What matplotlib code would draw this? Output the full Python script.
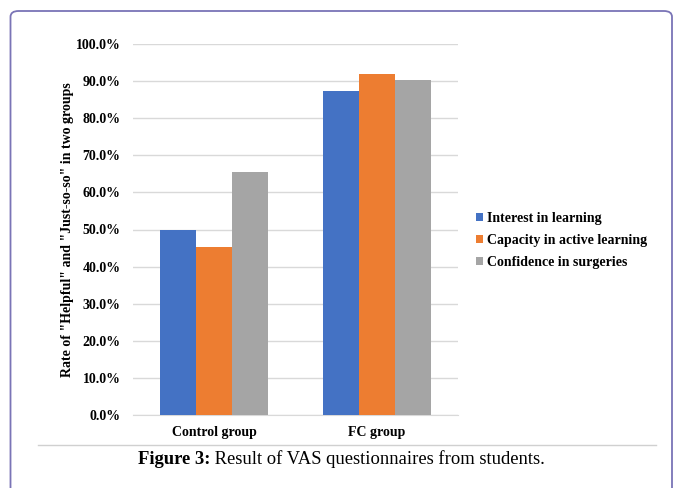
import numpy as np
import matplotlib
matplotlib.use("Agg")
import matplotlib.pyplot as plt
from matplotlib.patches import FancyBboxPatch
from matplotlib.lines import Line2D

# data (percent)
groups = ["Control group", "FC group"]
series = ["Interest in learning", "Capacity in active learning", "Confidence in surgeries"]
interest = [50.0, 87.3]
capacity = [45.2, 92.1]
confidence = [65.4, 90.3]
colors = ["#4472C4", "#ED7D31", "#A5A5A5"]

plt.rcParams["font.family"] = ["Liberation Serif", "DejaVu Serif"]

W, H = 673, 488
fig = plt.figure(figsize=(W / 100, H / 100), dpi=100)
ax = fig.add_axes([133 / W, 1 - 414.7 / H, 325 / W, (414.7 - 44.3) / H])

x = np.arange(len(groups))
w = 0.222
for i, (vals, lab) in enumerate(zip([interest, capacity, confidence], series)):
    ax.bar(x + (i - 1) * w, vals, w, color=colors[i], label=lab, zorder=3)

ax.set_xlim(-0.5, 1.5)
ax.set_ylim(0, 100)
ax.set_yticks(np.arange(0, 101, 10))
ax.set_yticklabels([f"{v:.1f}%" for v in range(0, 101, 10)], fontsize=10, fontweight="bold")
ax.set_xticks(x)
ax.set_xticklabels(groups, fontsize=10, fontweight="bold")
ax.tick_params(axis="y", length=0, pad=9)
ax.tick_params(axis="x", length=0, pad=8)
ax.grid(axis="y", color="#D9D9D9", linewidth=1, zorder=0)
for s in ["top", "right", "left"]:
    ax.spines[s].set_visible(False)
ax.spines["bottom"].set_color("#D9D9D9")
ax.set_ylabel('Rate of "Helpful" and "Just-so-so" in two groups',
              fontsize=10, fontweight="bold", labelpad=1)

leg = fig.legend(loc="upper left", bbox_to_anchor=(470 / W, 1 - 206 / H),
                 frameon=False, prop={"size": 10, "weight": "bold"},
                 handlelength=0.5, handleheight=0.5, handletextpad=0.3,
                 labelspacing=0.65, borderaxespad=0)

# caption rule and caption
fig.add_artist(Line2D([38 / W, 656 / W], [1 - 445 / H] * 2, color="#D0D0D0", linewidth=1))
t1 = fig.text(138 / W, 1 - 460 / H, "Figure 3:", ha="left", va="center",
              fontsize=13.4, fontweight="bold")
ax.annotate(" Result of VAS questionnaires from students.", xy=(1, 0), xycoords=t1,
            ha="left", va="bottom", fontsize=13.4, annotation_clip=False)

# rounded page border
box = FancyBboxPatch((10.5 / W, -0.1), (672 - 10.5) / W, 1.1 - 11 / H,
                     boxstyle="round,pad=0,rounding_size=0.012",
                     transform=fig.transFigure, fill=False,
                     edgecolor="#7A74B6", linewidth=1.3)
fig.add_artist(box)

fig.savefig("out.png", dpi=100)
